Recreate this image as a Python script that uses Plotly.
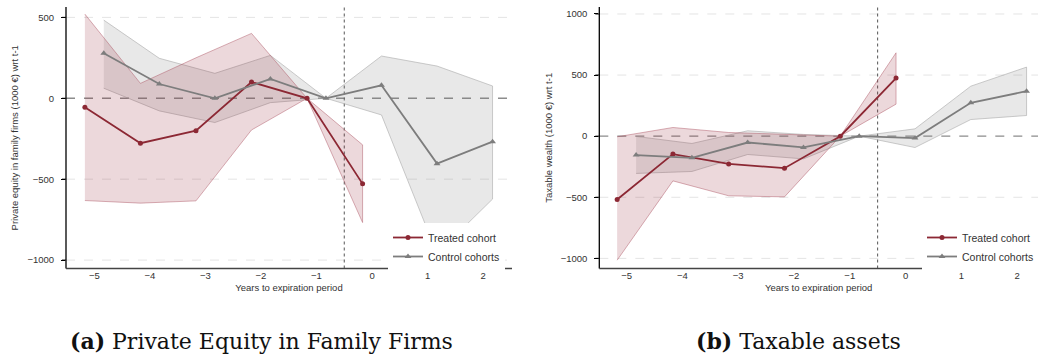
import plotly.graph_objects as go

# Event time (years to expiration period)
years_treated = [-5, -4, -3, -2, -1, 0]
years_control = [-5, -4, -3, -2, -1, 0, 1, 2]

# Panel (a): private equity in family firms (1000 EUR, relative to t-1)
pe_treated = [-55, -278, -200, 100, 0, -529]
pe_treated_hi = [520, 92, 250, 401, 0, -288]
pe_treated_lo = [-632, -648, -634, -196, 0, -768]
pe_control = [278, 88, 0, 119, 0, 80, -404, -268]
pe_control_hi = [483, 247, 154, 265, 0, 261, 199, 76]
pe_control_lo = [62, -78, -150, -27, 0, -103, -960, -623]

# Panel (b): taxable wealth (1000 EUR, relative to t-1)
tw_treated = [-518, -147, -227, -262, 0, 475]
tw_treated_hi = [-5, 71, 30, 12, 0, 682]
tw_treated_lo = [-1015, -366, -488, -497, 0, 262]
tw_control = [-155, -177, -52, -92, 0, -16, 273, 368]
tw_control_hi = [-2, -60, 44, 14, 0, 60, 409, 565]
tw_control_lo = [-305, -289, -150, -186, 0, -93, 136, 169]

y_ticks = [[500, 0, -500, -1000], [1000, 500, 0, -500, -1000]]
y_titles = ["Private equity in family firms (1000 €) wrt t-1",
            "Taxable wealth (1000 €) wrt t-1"]
x_title = "Years to expiration period"
captions = ["<b>(a)</b> Private Equity in Family Firms", "<b>(b)</b> Taxable assets"]

RED = "rgb(140,40,52)"
RED_FILL = "rgba(150,40,55,0.18)"
RED_EDGE = "rgba(170,80,95,0.45)"
GREY = "rgb(125,125,125)"
GREY_FILL = "rgba(130,130,130,0.18)"
GREY_EDGE = "rgba(170,170,170,0.6)"
SANS = "Liberation Sans, Arial, sans-serif"
SHIFT = 0.17

W, H = 1040, 356
fig = go.Figure()


def band(xs, lo, hi, fill, edge, xa, ya):
    fig.add_trace(go.Scatter(
        x=list(xs) + list(xs)[::-1], y=list(hi) + list(lo)[::-1],
        fill="toself", fillcolor=fill, line=dict(color=edge, width=1),
        mode="lines", hoverinfo="skip", showlegend=False, xaxis=xa, yaxis=ya))


panels = [
    (pe_treated, pe_treated_lo, pe_treated_hi, pe_control, pe_control_lo, pe_control_hi, "x", "y", "legend"),
    (tw_treated, tw_treated_lo, tw_treated_hi, tw_control, tw_control_lo, tw_control_hi, "x2", "y2", "legend2"),
]

for tr, tlo, thi, co, clo, chi, xa, ya, lg in panels:
    xt = [v - SHIFT for v in years_treated]
    xc = [v + SHIFT for v in years_control]
    band(xc, clo, chi, GREY_FILL, GREY_EDGE, xa, ya)
    band(xt, tlo, thi, RED_FILL, RED_EDGE, xa, ya)
    fig.add_trace(go.Scatter(
        x=xt, y=tr, mode="lines+markers", name="Treated cohort",
        line=dict(color=RED, width=1.8), marker=dict(symbol="circle", size=5, color=RED),
        xaxis=xa, yaxis=ya, legend=lg))
    fig.add_trace(go.Scatter(
        x=xc, y=co, mode="lines+markers", name="Control cohorts",
        line=dict(color=GREY, width=1.8), marker=dict(symbol="triangle-up", size=6, color=GREY),
        xaxis=xa, yaxis=ya, legend=lg))

# plot areas in pixels
left_px = (66, 512)
right_px = (599.3, 1038)
top_px, bot_px = 7, 268.5
ydom = [1 - bot_px / H, 1 - top_px / H]
TICK_LEN = 4

tick_font = dict(family=SANS, size=9.5, color="#333")
title_font = dict(family=SANS, size=9.5, color="#333")


def xaxis_cfg(dom, rng, anchor):
    return dict(domain=dom, range=rng, anchor=anchor,
                tickvals=list(range(-5, 3)), ticks="",
                showgrid=False, zeroline=False, showline=False,
                tickfont=tick_font,
                title=dict(text=x_title, font=title_font, standoff=4))


def yaxis_cfg(dom, rng, vals, anchor, title, standoff):
    return dict(domain=dom, range=rng, anchor=anchor, tickvals=vals,
                showgrid=False, zeroline=False, showline=False,
                ticks="outside", ticklen=TICK_LEN, tickwidth=1, tickcolor="#000",
                ticklabelstandoff=5, tickfont=tick_font,
                title=dict(text=title, font=title_font, standoff=standoff))


legend_common = dict(yanchor="top", xanchor="left", bgcolor="rgba(255,255,255,1)",
                     font=dict(family=SANS, size=10.5, color="#333"),
                     tracegroupgap=0, itemwidth=30, borderwidth=0)

fig.update_layout(
    width=W, height=H, margin=dict(l=0, r=0, t=0, b=0),
    paper_bgcolor="white", plot_bgcolor="white", showlegend=True,
    xaxis=xaxis_cfg([left_px[0] / W, left_px[1] / W], [-5.51, 2.52], "y"),
    yaxis=yaxis_cfg(ydom, [-1052, 564], y_ticks[0], "x", y_titles[0], 7),
    xaxis2=xaxis_cfg([right_px[0] / W, right_px[1] / W], [-5.49, 2.375], "y2"),
    yaxis2=yaxis_cfg(ydom, [-1083, 1057], y_ticks[1], "x2", y_titles[1], 6),
    legend=dict(x=388 / W, y=1 - 223 / H, **legend_common),
    legend2=dict(x=922 / W, y=1 - 223 / H, **legend_common),
)

panel_px = (left_px, right_px)
for (xa, ya), vals, (p0, p1) in zip((("x", "y"), ("x2", "y2")), y_ticks, panel_px):
    # light dashed grid at the labelled values
    for v in vals:
        if v == 0:
            continue
        fig.add_shape(type="line", xref=f"{xa} domain", yref=ya, x0=0, x1=1, y0=v, y1=v,
                      line=dict(color="#e4e4e4", width=1, dash="dash"), layer="below")
    # dashed zero line and dotted expiration threshold
    fig.add_shape(type="line", xref=f"{xa} domain", yref=ya, x0=0, x1=1, y0=0, y1=0,
                  line=dict(color="#8c8c8c", width=1.3, dash="dash"), layer="below")
    fig.add_shape(type="line", xref=xa, yref=f"{ya} domain", x0=-0.5, x1=-0.5, y0=0, y1=1,
                  line=dict(color="#555", width=1, dash="dot"), layer="below")
    # axis frame: left (black) and bottom (dark grey) lines, outward y tick marks
    fig.add_shape(type="line", xref=f"{xa} domain", yref=f"{ya} domain", x0=0, x1=0, y0=0, y1=1,
                  line=dict(color="#000", width=1.3), layer="above")
    fig.add_shape(type="line", xref=f"{xa} domain", yref=f"{ya} domain", x0=0, x1=1, y0=0, y1=0,
                  line=dict(color="#444", width=1.3), layer="above")
    tick_dom = TICK_LEN / (p1 - p0)
    for v in vals:
        fig.add_shape(type="line", xref=f"{xa} domain", yref=ya, x0=-tick_dom, x1=0, y0=v, y1=v,
                      line=dict(color="#000", width=1), layer="above")

# sub-figure captions
for cx, text in zip((261.5 / W, 798 / W), captions):
    fig.add_annotation(x=cx, y=1 - 341 / H, xref="paper", yref="paper", text=text,
                       showarrow=False, xanchor="center", yanchor="middle",
                       font=dict(family="DejaVu Serif, serif", size=22, color="#111"))

fig.write_html("out.html")
